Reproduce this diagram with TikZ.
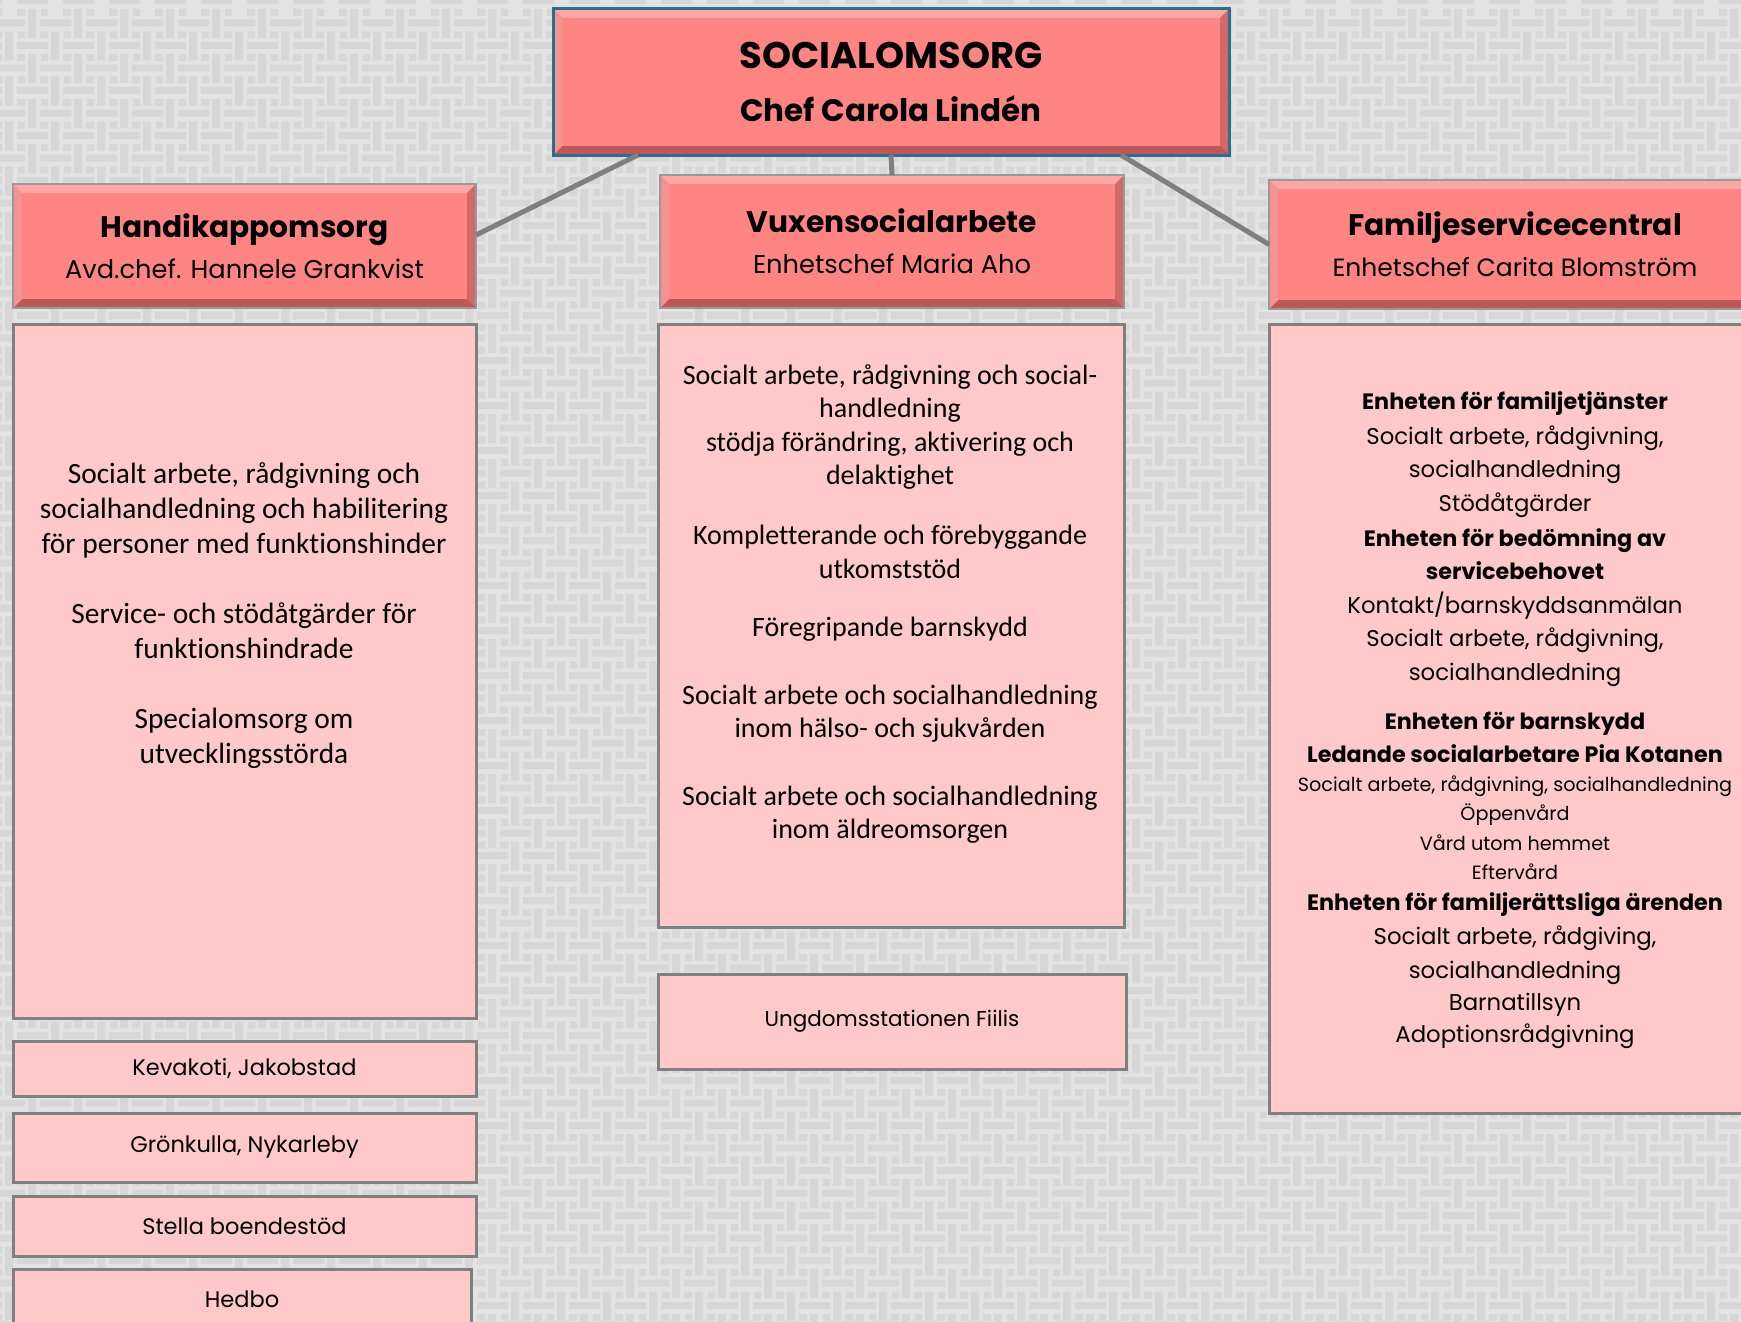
\documentclass[tikz,border=0pt]{standalone}
\usepackage{fontspec}
\setmainfont{Carlito}[Ligatures=CommonOff]
\newfontfamily\fut{Poppins}
\definecolor{bgc}{HTML}{E3E3E3}
\definecolor{weavec}{HTML}{D7D7D7}
\definecolor{headc}{HTML}{FF8585}
\definecolor{bodyc}{HTML}{FFC9C9}
\definecolor{edgec}{HTML}{808080}
\definecolor{topedge}{HTML}{2A6F8E}
\definecolor{bevT}{HTML}{FFA6A6}
\definecolor{bevL}{HTML}{F49292}
\definecolor{bevR}{HTML}{D26868}
\definecolor{bevB}{HTML}{BC5858}
\definecolor{linkc}{HTML}{7F7F7F}
\tikzset{
  bevel/.style={path picture={
    \path (path picture bounding box.north west) coordinate (b1)
          (path picture bounding box.north east) coordinate (b2)
          (path picture bounding box.south east) coordinate (b3)
          (path picture bounding box.south west) coordinate (b4);
    \fill[bevT] (b1) -- (b2) -- ([shift={(-9pt,-9pt)}]b2) -- ([shift={(9pt,-9pt)}]b1) -- cycle;
    \fill[bevR] (b2) -- (b3) -- ([shift={(-9pt,9pt)}]b3) -- ([shift={(-9pt,-9pt)}]b2) -- cycle;
    \fill[bevB] (b3) -- (b4) -- ([shift={(9pt,9pt)}]b4) -- ([shift={(-9pt,9pt)}]b3) -- cycle;
    \fill[bevL] (b4) -- (b1) -- ([shift={(9pt,-9pt)}]b1) -- ([shift={(9pt,9pt)}]b4) -- cycle;
  }},
  headbox/.style={draw=edgec!80, line width=1.5pt, fill=headc, bevel, anchor=north west,
    inner sep=0pt, outer sep=0pt, align=center, font=\fut\fontsize{25.7}{41}\selectfont},
  topbox/.style={headbox, draw=topedge, line width=3pt, font=\fut\bfseries\fontsize{31}{53}\selectfont},
  bodybox/.style={draw=edgec, line width=3pt, fill=bodyc, anchor=north west,
    inner sep=0pt, outer sep=0pt, align=center, font=\fut\fontsize{22.5}{30}\selectfont},
  bodytext/.style={align=center, inner sep=0pt},
  link/.style={draw=linkc, line width=5pt},
  weave/.style={fill=weavec}
}
\begin{document}
\begin{tikzpicture}[x=1pt,y=-1pt]
\useasboundingbox (0,0) rectangle (1741,1322);
\clip (0,0) rectangle (1741,1322);
\fill[bgc] (0,0) rectangle (1741,1322);
% basket-weave background
\foreach \j in {0,...,59}{
  \foreach \i in {-1,...,38}{
    \pgfmathsetmacro\ox{46*\i+23*mod(\j,2)}
    \pgfmathsetmacro\oy{22.5*\j}
    \fill[weave] (\ox+17,\oy-3) rectangle ++(31,7)
                 (\ox+28,\oy+9) rectangle ++(8,29)
                 (\ox+17,\oy+9) rectangle ++(8,7)
                 (\ox+41,\oy+9) rectangle ++(7,7);
  }
}

% top
\node[topbox, minimum width=676pt, minimum height=146pt] (top) at (553,9)
  {{\fontsize{37}{53}\selectfont SOCIALOMSORG}\\Chef Carola Lindén};

% headers
\node[headbox, minimum width=463pt, minimum height=124pt] (hk) at (13,184)
  {{\bfseries\fontsize{29.7}{41}\selectfont Handikappomsorg}\\Avd.chef. Hannele Grankvist};
\node[headbox, minimum width=464pt, minimum height=133pt] (vx) at (660,175)
  {{\bfseries\fontsize{29.7}{41}\selectfont Vuxensocialarbete}\\Enhetschef Maria Aho};
\node[headbox, minimum width=492pt, minimum height=129pt] (fam) at (1269,180)
  {{\bfseries\fontsize{29.7}{41}\selectfont Familjeservicecentral}\\{\fontsize{25}{41}\selectfont Enhetschef Carita Blomström}};

% connectors
\draw[link] ([xshift=-253pt]top.south) -- ([yshift=11pt]hk.east);
\draw[link] (top.south) -- (vx.north);
\draw[link] ([xshift=230pt]top.south) -- (fam.west);

% bodies
\node[bodybox, minimum width=463pt, minimum height=694pt] (hkb) at (13,324) {};
\node[bodytext, font=\fontsize{29.4}{35}\selectfont] (hkt) at (244,616)
  {Socialt arbete, rådgivning och\\socialhandledning och habilitering\\för personer med funktionshinder\\[35pt]%
   Service- och stödåtgärder för\\funktionshindrade\\[35pt]Specialomsorg om\\utvecklingsstörda};

\node[bodybox, minimum width=466pt, minimum height=603pt] (vxb) at (658,324) {};
\node[bodytext, font=\fontsize{28}{33.3}\selectfont] (vxt) at (890,604)
  {Socialt arbete, rådgivning och social-\\handledning\\stödja förändring, aktivering och\\delaktighet\\[27pt]%
   Kompletterande och förebyggande\\utkomststöd\\[25pt]Föregripande barnskydd\\[35pt]%
   Socialt arbete och socialhandledning\\inom hälso- och sjukvården\\[34pt]%
   Socialt arbete och socialhandledning\\inom äldreomsorgen};

\node[bodybox, minimum width=492pt, minimum height=789pt] (famb) at (1269,324) {};
\node[bodytext, font=\fut\fontsize{22.8}{33.5}\selectfont] (famt) at (1515,720)
  {{\bfseries\fontsize{22.3}{33.5}\selectfont Enheten för familjetjänster}\\[1.5pt]Socialt arbete, rådgivning,\\socialhandledning\\Stödåtgärder\\[1.5pt]%
   {\bfseries\fontsize{22.3}{33.5}\selectfont Enheten för bedömning av}\\{\bfseries\fontsize{22.3}{33.5}\selectfont servicebehovet}\\Kontakt/barnskyddsanmälan\\Socialt arbete, rådgivning,\\socialhandledning\\[15.5pt]%
   {\bfseries\fontsize{22.3}{33.5}\selectfont Enheten för barnskydd}\\{\bfseries\fontsize{22.3}{33.5}\selectfont Ledande socialarbetare Pia Kotanen}\\[-4.5pt]%
   {\fontsize{19.2}{29}\selectfont Socialt arbete, rådgivning, socialhandledning}\\[-4.5pt]%
   {\fontsize{19.2}{29}\selectfont Öppenvård}\\[-3.5pt]%
   {\fontsize{19.2}{29}\selectfont Vård utom hemmet}\\[-4.5pt]%
   {\fontsize{19.2}{29}\selectfont Eftervård}\\[-2.5pt]%
   {\bfseries\fontsize{22.3}{33.5}\selectfont Enheten för familjerättsliga ärenden}\\[0.5pt]Socialt arbete, rådgiving,\\socialhandledning\\[-1.5pt]%
   Barnatillsyn\\[-1.5pt]Adoptionsrådgivning};

\node[bodybox, minimum width=468pt, minimum height=95pt, font=\fut\fontsize{21.5}{30}\selectfont] (ung) at (658,974) {Ungdomsstationen Fiilis};

\node[bodybox, minimum width=463pt, minimum height=55pt] (kev) at (13,1041) {Kevakoti, Jakobstad};
\node[bodybox, minimum width=463pt, minimum height=69pt] (gron) at (13,1113) {Grönkulla, Nykarleby};
\node[bodybox, minimum width=463pt, minimum height=60pt] (stel) at (13,1196) {Stella boendestöd};
\node[bodybox, minimum width=458pt, minimum height=60pt] (hed) at (13,1269) {Hedbo};
\end{tikzpicture}
\end{document}
